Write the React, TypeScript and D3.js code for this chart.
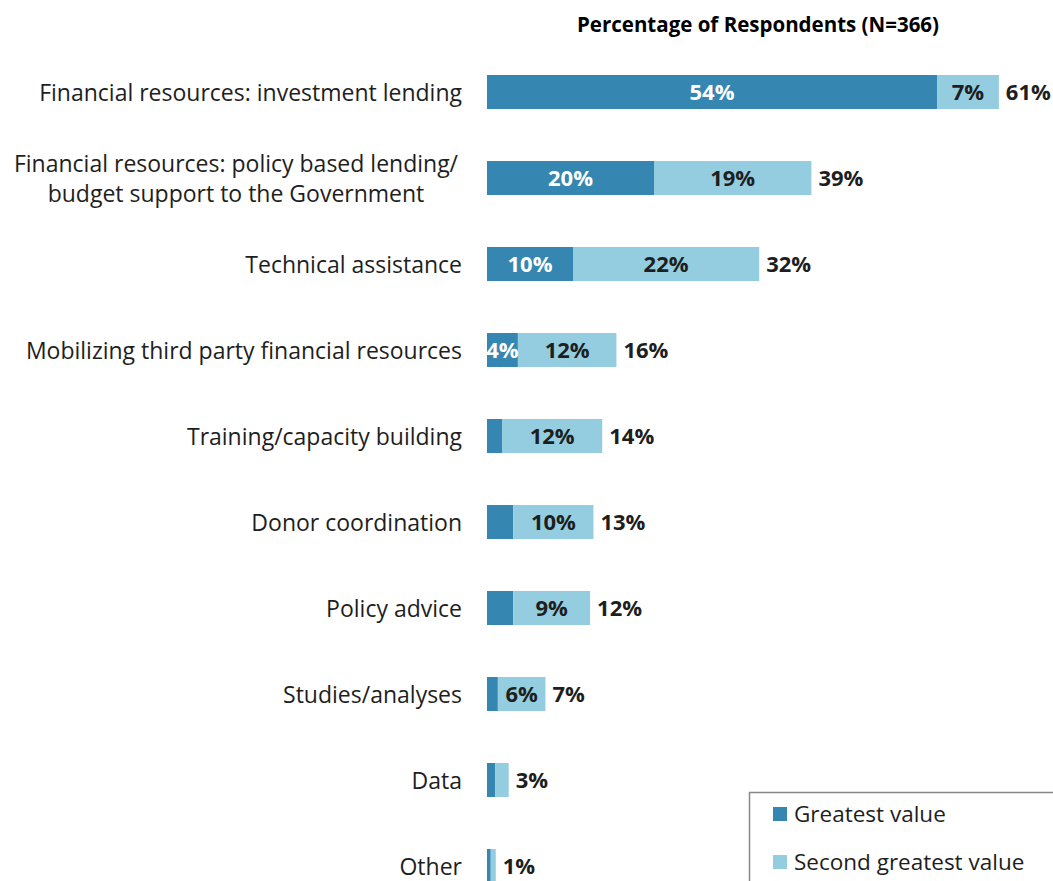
import React from "react";
import * as d3 from "d3";

const categories: string[][] = [
  ["Financial resources: investment lending"],
  ["Financial resources: policy based lending/", "budget support to the Government"],
  ["Technical assistance"],
  ["Mobilizing third party financial resources"],
  ["Training/capacity building"],
  ["Donor coordination"],
  ["Policy advice"],
  ["Studies/analyses"],
  ["Data"],
  ["Other"],
];
const greatest = [53.9, 20.0, 10.3, 3.7, 1.8, 3.15, 3.15, 1.3, 1.0, 0.45];
const second = [7.4, 18.85, 22.3, 11.8, 12.0, 9.6, 9.2, 5.7, 1.6, 0.6];
const greatestLabels = ["54%", "20%", "10%", "4%", "", "", "", "", "", ""];
const secondLabels = ["7%", "19%", "22%", "12%", "12%", "10%", "9%", "6%", "", ""];
const totalLabels = ["61%", "39%", "32%", "16%", "14%", "13%", "12%", "7%", "3%", "1%"];
const seriesNames = ["Greatest value", "Second greatest value"];
const title = "Percentage of Respondents (N=366)";

const DARK = "#3586b1";
const LIGHT = "#93cddf";
const TEXT = "#1e1e1e";
const FONT = "'Open Sans', Lato, sans-serif";

export default function App() {
  const W = 1053;
  const H = 881;
  const x = d3.scaleLinear().domain([0, 100]).range([487, 487 + 835]);
  const y = d3.scalePoint<number>().domain(d3.range(categories.length)).range([92, 866]);
  const barH = 34;

  return (
    <svg width={W} height={H} style={{ position: "absolute", left: 0, top: 0, background: "#fff" }} fontFamily={FONT}>
      <text x={758} y={32} textAnchor="middle" fontSize={20.5} fontWeight="bold" fill="#000">
        {title}
      </text>
      {categories.map((lines, i) => {
        const cy = y(i)!;
        const g = greatest[i];
        const s = second[i];
        const x0 = x(0);
        const x1 = x(g);
        const x2 = x(g + s);
        const lh = 30;
        const blockRight = 462;
        return (
          <g key={i}>
            {lines.length === 1 ? (
              <text x={blockRight} y={cy} dy="0.38em" textAnchor="end" fontSize={23} fill={TEXT}>
                {lines[0]}
              </text>
            ) : (
              <text x={236} y={cy - ((lines.length - 1) * lh) / 2} textAnchor="middle" fontSize={23} fill={TEXT}>
                {lines.map((l, k) => (
                  <tspan key={k} x={236} dy={k === 0 ? "0.38em" : lh}>
                    {l}
                  </tspan>
                ))}
              </text>
            )}
            <rect x={x0} y={cy - barH / 2} width={x1 - x0} height={barH} fill={DARK} />
            <rect x={x1} y={cy - barH / 2} width={x2 - x1} height={barH} fill={LIGHT} />
            {greatestLabels[i] && (
              <text x={(x0 + x1) / 2} y={cy} dy="0.36em" textAnchor="middle" fontSize={22} fontWeight="bold" fill="#fff">
                {greatestLabels[i]}
              </text>
            )}
            {secondLabels[i] && (
              <text x={(x1 + x2) / 2} y={cy} dy="0.36em" textAnchor="middle" fontSize={22} fontWeight="bold" fill={TEXT}>
                {secondLabels[i]}
              </text>
            )}
            <text x={x2 + 7} y={cy} dy="0.36em" textAnchor="start" fontSize={22} fontWeight="bold" fill={TEXT}>
              {totalLabels[i]}
            </text>
          </g>
        );
      })}
      <g>
        <rect x={749.5} y={792.5} width={320} height={100} fill="#fff" stroke="#888" strokeWidth={1.5} />
        {seriesNames.map((n, k) => (
          <g key={n}>
            <rect x={773} y={807 + k * 48} width={14} height={14} fill={k === 0 ? DARK : LIGHT} />
            <text x={794} y={822 + k * 48} fontSize={22.5} fill={TEXT}>
              {n}
            </text>
          </g>
        ))}
      </g>
    </svg>
  );
}
